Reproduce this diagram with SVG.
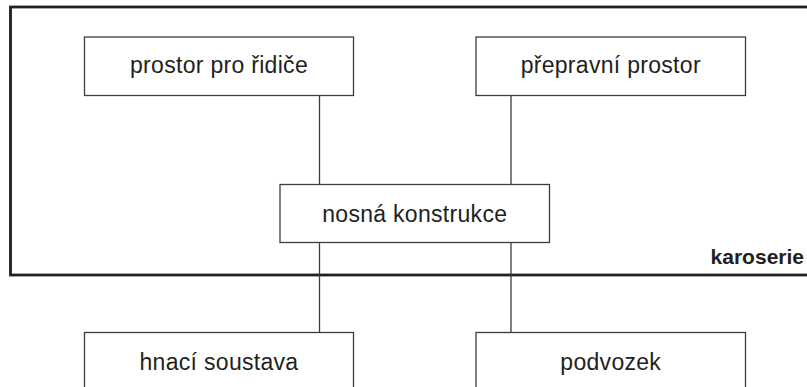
<svg xmlns="http://www.w3.org/2000/svg" width="807" height="387" viewBox="0 0 807 387">
  <style>
    .frame { fill: none; stroke: #231f20; stroke-width: 2.8; }
    .box { fill: #ffffff; stroke: #3c3c3c; stroke-width: 1.3; }
    .link { fill: none; stroke: #3c3c3c; stroke-width: 1.3; }
    .label { font-family: "Liberation Sans", Arial, sans-serif; font-size: 23px; fill: #231f20; text-anchor: middle; letter-spacing: 0.3px; }
    .title { font-family: "Liberation Sans", Arial, sans-serif; font-size: 21px; font-weight: bold; fill: #231f20; text-anchor: end; }
  </style>

  <!-- body (karoserie) enclosure -->
  <g id="karoserie">
    <rect class="frame" x="10.5" y="7" width="810" height="268"/>
    <text class="title" x="804" y="263.5">karoserie</text>
  </g>

  <!-- connectors -->
  <g id="connectors">
    <line class="link" x1="319.5" y1="95.5" x2="319.5" y2="184.5"/>
    <line class="link" x1="511" y1="95.5" x2="511" y2="184.5"/>
    <line class="link" x1="319.5" y1="242.5" x2="319.5" y2="332.5"/>
    <line class="link" x1="511" y1="242.5" x2="511" y2="332.5"/>
  </g>

  <g id="prostor-pro-ridice">
    <rect class="box" x="84.5" y="37" width="269" height="58.5"/>
    <text class="label" x="219" y="72.5">prostor pro řidiče</text>
  </g>

  <g id="prepravni-prostor">
    <rect class="box" x="476" y="37" width="269.5" height="58.5"/>
    <text class="label" x="610.75" y="72.5">přepravní prostor</text>
  </g>

  <g id="nosna-konstrukce">
    <rect class="box" x="280" y="184.5" width="269.5" height="58"/>
    <text class="label" x="414.75" y="221.7">nosná konstrukce</text>
  </g>

  <g id="hnaci-soustava">
    <rect class="box" x="84.5" y="332.5" width="269" height="58.5"/>
    <text class="label" x="219" y="370">hnací soustava</text>
  </g>

  <g id="podvozek">
    <rect class="box" x="476" y="332.5" width="269.5" height="58.5"/>
    <text class="label" x="610.75" y="370">podvozek</text>
  </g>
</svg>
